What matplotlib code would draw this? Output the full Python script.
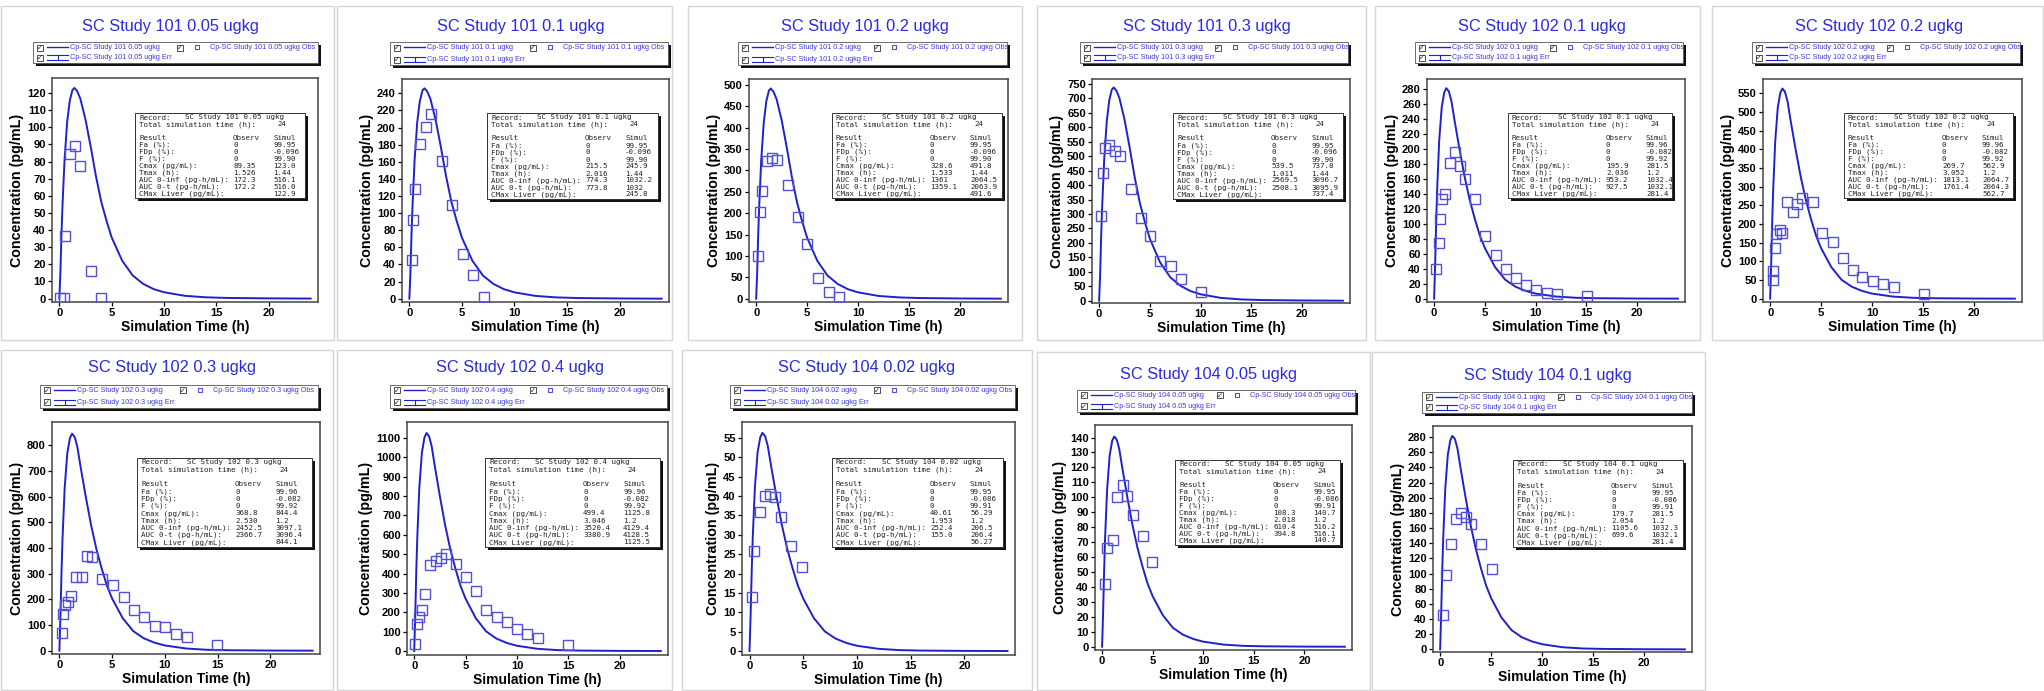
import matplotlib
matplotlib.use("Agg")
import matplotlib.pyplot as plt
from matplotlib.patches import Rectangle
from matplotlib.lines import Line2D
from matplotlib.text import Text
from matplotlib.transforms import Affine2D

# ---- data ----
records = ["SC Study 101 0.05 ugkg", "SC Study 101 0.1 ugkg", "SC Study 101 0.2 ugkg",
           "SC Study 101 0.3 ugkg", "SC Study 102 0.1 ugkg", "SC Study 102 0.2 ugkg",
           "SC Study 102 0.3 ugkg", "SC Study 102 0.4 ugkg", "SC Study 104 0.02 ugkg",
           "SC Study 104 0.05 ugkg", "SC Study 104 0.1 ugkg"]

obs_t = [
    [0.1, 0.4, 0.55, 1.0, 1.5, 2.0, 3.0, 4.0],
    [0.25, 0.35, 0.57, 1.0, 1.58, 2.06, 3.07, 4.05, 5.06, 6.07, 7.1],
    [0.22, 0.41, 0.6, 1.08, 1.6, 2.07, 3.09, 4.08, 5.03, 6.05, 7.1, 8.1],
    [0.19, 0.38, 0.58, 1.01, 1.53, 2.08, 3.1, 4.09, 5.05, 6.04, 7.06, 8.02, 10.03],
    [0.19, 0.45, 0.58, 0.8, 1.05, 1.53, 2.04, 2.56, 3.07, 4.06, 5.05, 6.07, 7.09, 8.08,
     9.07, 10.06, 11.09, 12.1, 15.05],
    [0.25, 0.27, 0.43, 0.6, 0.92, 1.12, 1.66, 2.2, 2.68, 3.15, 4.2, 5.1, 6.15, 7.15, 8.1,
     9.05, 10.08, 11.05, 12.1, 15.05],
    [0.25, 0.34, 0.52, 0.86, 1.1, 1.6, 2.12, 2.58, 3.1, 4.08, 5.06, 6.1, 7.06, 8.04, 9.02,
     10.03, 11.04, 12.06, 14.97],
    [0.1, 0.31, 0.47, 0.75, 1.07, 1.54, 2.08, 2.58, 3.05, 4.06, 5.09, 6.0, 7.01, 8.02,
     9.06, 10.03, 11.0, 12.0, 15.0],
    [0.21, 0.45, 1.0, 1.45, 1.95, 2.38, 2.92, 3.89, 4.91],
    [0.26, 0.48, 1.06, 1.47, 2.02, 2.5, 3.04, 4.0, 4.97],
    [0.32, 0.58, 1.06, 1.55, 2.05, 2.55, 3.06, 4.03, 5.06],
]
obs_c = [
    [0.5, 0.3, 36.7, 84.3, 89.35, 77.2, 16.0, 0.4],
    [45, 92.5, 128, 181, 201, 215.5, 161, 110, 52.7, 28, 2],
    [99, 202, 252, 321, 328.6, 324, 266, 190, 127, 48, 16, 4],
    [294, 441, 529, 539.5, 518, 499, 386, 285, 224, 136, 121, 75, 29],
    [39, 75, 106, 133, 140, 182, 195.9, 178, 160, 133, 83.5, 59, 39, 27, 18, 11, 7, 6, 4],
    [49, 74, 137, 172, 183, 176, 258, 233, 253, 269.7, 258, 176, 153, 110, 76, 58, 46.5,
     38.5, 30, 11.6],
    [69, 142, 176, 189, 211, 286, 285, 368.8, 366, 278, 256, 207, 158, 132, 94.5, 90.6,
     66, 53, 23],
    [36, 138, 178, 210, 293, 445, 466, 478, 499.4, 448, 384, 310, 212, 176, 152, 114, 86,
     65.5, 31],
    [14.05, 25.9, 35.8, 40.1, 40.61, 39.7, 34.7, 27, 21.6],
    [41.7, 65.8, 71.4, 100, 108.3, 100.7, 88.2, 74, 57],
    [45.7, 97.6, 138.5, 172, 179.7, 174, 165, 139, 106],
]

# simulated profile shape (fraction of Cmax), one per study group
sim_t_101 = [0, 0.1, 0.2, 0.3, 0.5, 0.75, 1.0, 1.25, 1.44, 1.7, 2.0, 2.5, 3.0, 3.5, 4.0,
             4.5, 5.0, 6.0, 7.0, 8.0, 9.0, 10.0, 12.0, 14.0, 16.0, 20.0, 24.0]
sim_f_101 = [0, 0.12, 0.30, 0.44, 0.66, 0.84, 0.94, 0.99, 1.0, 0.985, 0.95, 0.85, 0.72,
             0.58, 0.46, 0.37, 0.29, 0.18, 0.11, 0.07, 0.045, 0.03, 0.013, 0.006, 0.003,
             0.001, 0.0]
sim_t_102 = [0, 0.1, 0.2, 0.3, 0.5, 0.75, 1.0, 1.2, 1.45, 1.7, 2.0, 2.5, 3.0, 3.5, 4.0,
             4.5, 5.0, 6.0, 7.0, 8.0, 9.0, 10.0, 12.0, 14.0, 16.0, 20.0, 24.0]
sim_f_102 = [0, 0.16, 0.36, 0.52, 0.75, 0.91, 0.98, 1.0, 0.985, 0.94, 0.85, 0.71, 0.58,
             0.47, 0.38, 0.30, 0.24, 0.15, 0.09, 0.057, 0.037, 0.024, 0.01, 0.004, 0.002,
             0.0005, 0.0]
sim_group = ["101", "101", "101", "101", "102", "102", "102", "102", "102", "102", "102"]

result_labels = ["Fa (%):", "FDp (%):", "F (%):", "Cmax (pg/mL):", "Tmax (h):",
                 "AUC 0-inf (pg-h/mL):", "AUC 0-t (pg-h/mL):", "CMax Liver (pg/mL):"]
observ = [
    ["0", "0", "0", "89.35", "1.526", "172.3", "172.2", ""],
    ["0", "0", "0", "215.5", "2.016", "774.3", "773.8", ""],
    ["0", "0", "0", "328.6", "1.533", "1361", "1359.1", ""],
    ["0", "0", "0", "539.5", "1.011", "2569.5", "2508.1", ""],
    ["0", "0", "0", "195.9", "2.036", "953.2", "927.5", ""],
    ["0", "0", "0", "269.7", "3.052", "1813.1", "1761.4", ""],
    ["0", "0", "0", "368.8", "2.530", "2452.5", "2366.7", ""],
    ["0", "0", "0", "499.4", "3.046", "3520.4", "3380.9", ""],
    ["0", "0", "0", "40.61", "1.953", "252.4", "155.0", ""],
    ["0", "0", "0", "108.3", "2.018", "610.4", "394.8", ""],
    ["0", "0", "0", "179.7", "2.054", "1105.6", "699.6", ""],
]
simul = [
    ["99.95", "-0.096", "99.90", "123.0", "1.44", "516.1", "516.0", "122.9"],
    ["99.95", "-0.096", "99.90", "245.9", "1.44", "1032.2", "1032", "245.8"],
    ["99.95", "-0.096", "99.90", "491.8", "1.44", "2064.5", "2063.9", "491.6"],
    ["99.95", "-0.096", "99.90", "737.8", "1.44", "3096.7", "3095.9", "737.4"],
    ["99.96", "-0.082", "99.92", "281.5", "1.2", "1032.4", "1032.1", "281.4"],
    ["99.96", "-0.082", "99.92", "562.9", "1.2", "2064.7", "2064.3", "562.7"],
    ["99.96", "-0.082", "99.92", "844.4", "1.2", "3097.1", "3096.4", "844.1"],
    ["99.96", "-0.082", "99.92", "1125.8", "1.2", "4129.4", "4128.5", "1125.5"],
    ["99.95", "-0.086", "99.91", "56.29", "1.2", "206.5", "206.4", "56.27"],
    ["99.95", "-0.086", "99.91", "140.7", "1.2", "516.2", "516.1", "140.7"],
    ["99.95", "-0.086", "99.91", "281.5", "1.2", "1032.3", "1032.1", "281.4"],
]

y_tick_max = [120, 240, 500, 750, 280, 550, 800, 1100, 55, 140, 280]
y_tick_step = [10, 20, 50, 50, 20, 50, 100, 100, 5, 10, 20]
y_lims = [(-2.0, 128.8), (-3.9, 256.8), (-7.8, 514), (-8, 767), (-4.5, 293.8),
          (-9, 588.5), (-13, 890), (-20.7, 1183), (-1.03, 59.1), (-2.2, 148.4),
          (-3.5, 294.5)]

# ---- layout in reference pixels (left, top, right, bottom) ----
axes_px = [(52, 78, 318, 302), (402, 79, 669, 302), (749, 79, 1008, 302),
           (1092, 79, 1350, 303), (1427, 79, 1685, 302), (1763, 79, 2022, 302),
           (52, 422, 320, 654), (407, 422, 668, 655), (742, 422, 1015, 655),
           (1095, 425, 1352, 650), (1433, 426, 1692, 652)]
title_px = [(170, 27), (521, 27), (865, 27), (1207, 27), (1542, 27), (1879, 27),
            (172, 368), (520, 368), (867, 368), (1209, 375), (1548, 376)]
legend_px = [(33, 42, 318, 63), (390, 42, 668, 65), (738, 42, 1007, 65),
             (1080, 42, 1348, 63), (1415, 42, 1683, 63), (1752, 42, 2020, 63),
             (40, 385, 318, 408), (390, 385, 667, 408), (730, 385, 1015, 408),
             (1077, 390, 1355, 412), (1422, 392, 1692, 413)]
result_px = [(135, 113, 305, 198), (487, 113, 658, 199), (832, 113, 1002, 198),
             (1173, 113, 1343, 199), (1508, 113, 1672, 198), (1844, 113, 2013, 198),
             (137, 458, 312, 547), (485, 458, 660, 547), (832, 458, 1003, 547),
             (1175, 460, 1340, 545), (1513, 460, 1683, 547)]
frame_px = [(1, 6, 334, 340), (337, 6, 672, 340), (688, 6, 1022, 340),
            (1037, 6, 1366, 340), (1375, 6, 1700, 340), (1712, 6, 2043, 340),
            (1, 350, 333, 690), (337, 350, 672, 690), (682, 350, 1032, 690),
            (1037, 352, 1370, 690), (1372, 352, 1705, 690)]

W, H = 2044, 691
LINE = "#2020cc"
TITLE = "#2a2ae0"
MARK = "#5050d8"
LEG = "#3a3ad8"

plt.rcParams["font.family"] = ["Liberation Sans", "DejaVu Sans"]
fig = plt.figure(figsize=(W / 100, H / 100), dpi=100)
fig.patch.set_facecolor("white")
pix = Affine2D().scale(1 / W, -1 / H).translate(0, 1) + fig.transFigure


def ptext(x, y, s, **kw):
    fig.add_artist(Text(x, y, s, transform=pix, **kw))


def prect(x0, y0, x1, y1, **kw):
    fig.add_artist(Rectangle((x0, y0), x1 - x0, y1 - y0, transform=pix, **kw))


def pline(xs, ys, **kw):
    fig.add_artist(Line2D(xs, ys, transform=pix, **kw))


def checkbox(x, y):
    prect(x - 3, y - 3, x + 3, y + 3, facecolor="white", edgecolor="#333333", lw=0.6, zorder=3)
    ptext(x, y + 0.5, "\u2713", fontsize=5, ha="center", va="center", color="#222222",
          family="DejaVu Sans", zorder=4)


for i in range(len(records)):
    l, t, r, b = axes_px[i]
    ax = fig.add_axes([l / W, 1 - b / H, (r - l) / W, (b - t) / H])

    if sim_group[i] == "101":
        st, sf = sim_t_101, sim_f_101
    else:
        st, sf = sim_t_102, sim_f_102
    peak = float(simul[i][3])
    ax.plot(st, [f * peak for f in sf], color=LINE, lw=1.4, zorder=2)
    ax.plot(obs_t[i], obs_c[i], linestyle="none", marker="s", markersize=7,
            markerfacecolor="none", markeredgecolor=MARK, markeredgewidth=1.0, zorder=3)

    ax.set_xlim(-0.7, 24.7)
    ax.set_ylim(*y_lims[i])
    ax.set_xticks([0, 5, 10, 15, 20])
    ax.set_yticks(range(0, y_tick_max[i] + 1, y_tick_step[i]))
    ax.tick_params(direction="out", length=3, width=0.9, labelsize=8, pad=1.5)
    for lab in ax.get_xticklabels() + ax.get_yticklabels():
        lab.set_fontweight("bold")
    ax.set_xlabel("Simulation Time (h)", fontsize=10, fontweight="bold", labelpad=1)
    ax.set_ylabel("Concentration (pg/mL)", fontsize=10.3, fontweight="bold", labelpad=2)
    for sp in ax.spines.values():
        sp.set_color("#444444")
        sp.set_linewidth(1.1)

    # screenshot frame
    fl, ft, fr, fb = frame_px[i]
    prect(fl, ft, fr, fb, facecolor="none", edgecolor="#d6d6d6", lw=1.0, zorder=0.5)

    # title
    tx, ty = title_px[i]
    ptext(tx, ty, records[i], fontsize=11.8, color=TITLE, ha="center", va="center")

    # legend panel with drop shadow
    ll, lt, lr, lb = legend_px[i]
    prect(ll + 3, lt + 3, lr + 3, lb + 3, facecolor="#111111", edgecolor="none", zorder=2)
    prect(ll, lt, lr, lb, facecolor="white", edgecolor="#555555", lw=0.6, zorder=2.5)
    r1 = lt + 5.5
    r2 = lb - 5.5
    checkbox(ll + 7, r1)
    pline([ll + 14, ll + 35], [r1, r1], color=LINE, lw=1.0, zorder=4)
    ptext(ll + 37, r1, "Cp-" + records[i], fontsize=5.2, color=LEG, va="center", zorder=4)
    x2 = ll + 0.515 * (lr - ll)
    checkbox(x2, r1)
    pline([x2 + 17], [r1], marker="s", markersize=3.5, markerfacecolor="none",
          markeredgecolor=MARK, markeredgewidth=0.8, zorder=4)
    ptext(x2 + 30, r1, "Cp-" + records[i] + " Obs", fontsize=5.2, color=LEG, va="center",
          zorder=4)
    checkbox(ll + 7, r2)
    pline([ll + 14, ll + 35], [r2 - 2.5, r2 - 2.5], color=LINE, lw=0.8, zorder=4)
    pline([ll + 14, ll + 35], [r2 + 2.5, r2 + 2.5], color=LINE, lw=0.8, zorder=4)
    pline([ll + 25, ll + 25], [r2 - 2.5, r2 + 2.5], color=LINE, lw=0.8, zorder=4)
    ptext(ll + 37, r2, "Cp-" + records[i] + " Err", fontsize=5.2, color=LEG, va="center",
          zorder=4)

    # results box with drop shadow
    bl, bt, br, bb = result_px[i]
    prect(bl + 3, bt + 3, br + 3, bb + 3, facecolor="#111111", edgecolor="none", zorder=5)
    prect(bl, bt, br, bb, facecolor="white", edgecolor="#333333", lw=0.7, zorder=5.5)
    step = (bb - bt - 9) / 11.0
    mono = dict(fontsize=5.4, family="DejaVu Sans Mono", va="center", color="#222222",
                zorder=6)
    y0 = bt + 4.5
    ptext(bl + 4, y0, "Record:", **mono)
    ptext(bl + 50, y0, records[i], **mono)
    ptext(bl + 4, y0 + step, "Total simulation time (h):", **mono)
    ptext(bl + 142, y0 + step, "24", **mono)
    ptext(bl + 4, y0 + 3 * step, "Result", **mono)
    ptext(bl + 98, y0 + 3 * step, "Observ", **mono)
    ptext(bl + 138, y0 + 3 * step, "Simul", **mono)
    for k, lab in enumerate(result_labels):
        yy = y0 + (4 + k) * step
        ptext(bl + 4, yy, lab, **mono)
        ptext(bl + 98, yy, observ[i][k], **mono)
        ptext(bl + 138, yy, simul[i][k], **mono)

fig.savefig("out.png", dpi=100, facecolor="white")
